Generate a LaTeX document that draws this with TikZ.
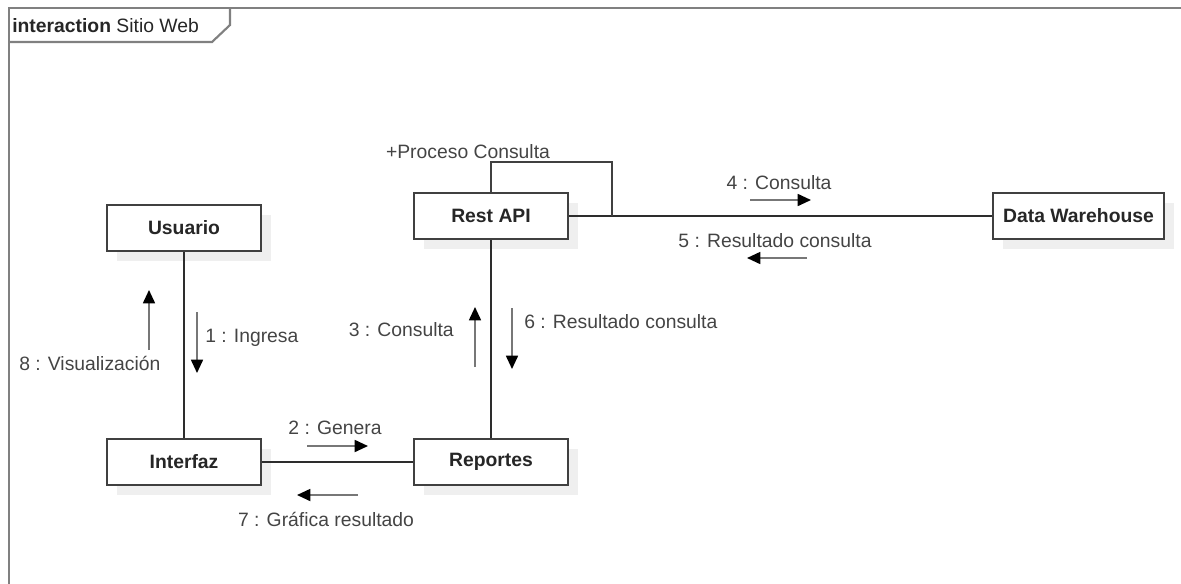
\documentclass[tikz,border=0pt]{standalone}
\usepackage{fontspec}
\setmainfont{Liberation Sans}
\usetikzlibrary{arrows.meta,shadows}
\definecolor{framegray}{HTML}{808080}
\definecolor{boxline}{HTML}{404040}
\definecolor{txt}{HTML}{444444}
\definecolor{shaft}{HTML}{777777}
\definecolor{shadowgray}{HTML}{EFEFEF}
\tikzset{
  obj/.style={draw=boxline, line width=1.5pt, fill=white, minimum height=34.5pt,
    inner sep=0pt, font=\fontsize{14.5pt}{16pt}\selectfont\bfseries, text=black!85,
    drop shadow={shadow xshift=7.5pt, shadow yshift=-7.5pt, fill=shadowgray, opacity=1}},
  link/.style={draw=boxline!70!black, line width=1.5pt},
  msg/.style={draw=shaft, line width=1.3pt, -{Triangle[length=10pt,width=9pt,color=black]}},
  lbl/.style={inner sep=0pt, text=txt, font=\fontsize{14.5pt}{16pt}\selectfont},
}
\begin{document}
\begin{tikzpicture}[x=0.75pt,y=-0.75pt]
\useasboundingbox (0,0) rectangle (1181,583);
% frame
\draw[framegray, line width=1.6pt] (9,600) -- (9,8) -- (1200,8);
\draw[framegray, line width=1.6pt] (9,42) -- (212,42) -- (230,25) -- (230,8);
\node[lbl, anchor=west, text=black!85] (title) at (12,26) {\textbf{interaction} Sitio Web};

% objects
\node[obj, minimum width=115.5pt] (usuario) at (184,228) {Usuario};
\node[obj, minimum width=116pt] (rest) at (491,216) {Rest API};
\node[obj, minimum width=128pt] (dw) at (1078.5,216) {Data Warehouse};
\node[obj, minimum width=115.5pt] (interfaz) at (184,462) {Interfaz};
\node[obj, minimum width=115.5pt] (reportes) at (491,462) {Reportes};

% links
\draw[link] (usuario.south) -- (interfaz.north);
\draw[link] (interfaz.east) -- (reportes.west);
\draw[link] (rest.south) -- (reportes.north);
\draw[link] (rest.east) -- (dw.west);
\coordinate (loopa) at (491,162);
\coordinate (loopb) at (612,162);
\coordinate (loopc) at (612,216);
\draw[draw=boxline, line width=1.3pt] (rest.north) -- (loopa) -- (loopb) -- (loopc);
\node[lbl] (proc) at (468,152) {+Proceso Consulta};

% messages
\coordinate (m1a) at (197,312); \coordinate (m1b) at (197,373);
\draw[msg] (m1a) -- (m1b);
\node[lbl, anchor=west] (l1) at (205,338) {1 : Ingresa};

\coordinate (m8a) at (149,350); \coordinate (m8b) at (149,290);
\draw[msg] (m8a) -- (m8b);
\node[lbl, anchor=west] (l8) at (19,363) {8 : Visualización};

\coordinate (m2a) at (307,446); \coordinate (m2b) at (368,446);
\draw[msg] (m2a) -- (m2b);
\node[lbl] (l2) at (335,428) {2 : Genera};

\coordinate (m7a) at (358,495); \coordinate (m7b) at (297,495);
\draw[msg] (m7a) -- (m7b);
\node[lbl] (l7) at (326,519) {7 : Gráfica resultado};

\coordinate (m3a) at (475,367); \coordinate (m3b) at (475,307);
\draw[msg] (m3a) -- (m3b);
\node[lbl, anchor=east] (l3) at (454,330) {3 : Consulta};

\coordinate (m6a) at (512,308); \coordinate (m6b) at (512,369);
\draw[msg] (m6a) -- (m6b);
\node[lbl, anchor=west] (l6) at (524,322) {6 : Resultado consulta};

\coordinate (m4a) at (750,200); \coordinate (m4b) at (811,200);
\draw[msg] (m4a) -- (m4b);
\node[lbl] (l4) at (779,183) {4 : Consulta};

\coordinate (m5a) at (807,258); \coordinate (m5b) at (747,258);
\draw[msg] (m5a) -- (m5b);
\node[lbl] (l5) at (775,241) {5 : Resultado consulta};
\end{tikzpicture}
\end{document}
